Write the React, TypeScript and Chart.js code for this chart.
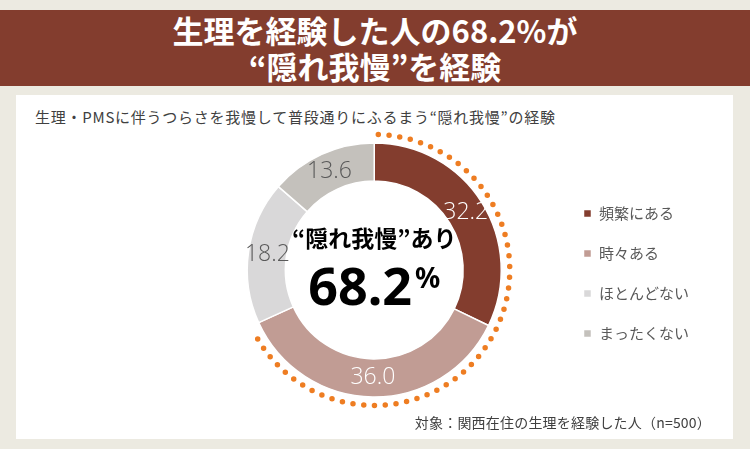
import React, { useEffect, useRef } from 'react';
import { Chart, registerables } from 'chart.js';

Chart.register(...registerables);

// answer categories and shares (%)
const categories = ['頻繁にある', '時々ある', 'ほとんどない', 'まったくない'];
const shares = [32.2, 36.0, 18.2, 13.6];
const sliceColors = ['#833D2E', '#C19C94', '#D9D8D9', '#C4C1BC'];
const valueColors = ['#FFFFFF', '#FFFFFF', '#595959', '#595959'];
// slices counted as "隠れ我慢あり"
const hiddenCount = 2;

const titleLines = ['生理を経験した人の68.2%が', '“隠れ我慢”を経験'];
const subtitle = '生理・PMSに伴うつらさを我慢して普段通りにふるまう“隠れ我慢”の経験';
const note = '対象：関西在住の生理を経験した人（n=500）';
const centerCaption = '“隠れ我慢”あり';

const JP = '"Noto Sans CJK JP", "Noto Sans", sans-serif';

const App: React.FC = () => {
  const canvasRef = useRef<HTMLCanvasElement>(null);
  const chartRef = useRef<Chart>();

  useEffect(() => {
    const canvas = canvasRef.current;
    if (!canvas) return;
    const ctx = canvas.getContext('2d');
    if (!ctx) return;

    // dotted orange arc around the "あり" slices
    const dottedArc = {
      id: 'dottedArc',
      afterDatasetsDraw(chart: any) {
        const arcs = chart.getDatasetMeta(0).data;
        const first = arcs[0].getProps(['x', 'y', 'startAngle', 'outerRadius'], true);
        const last = arcs[hiddenCount - 1].getProps(['endAngle'], true);
        const c = chart.ctx;
        c.save();
        c.beginPath();
        c.arc(first.x, first.y, first.outerRadius + 8.5, first.startAngle + 0.03, last.endAngle - 0.03);
        c.setLineDash([0, 10.8]);
        c.lineCap = 'round';
        c.lineWidth = 5.5;
        c.strokeStyle = '#EE7D22';
        c.stroke();
        c.restore();
      },
    };

    // value labels on the ring
    const valueLabels = {
      id: 'valueLabels',
      afterDatasetsDraw(chart: any) {
        const arcs = chart.getDatasetMeta(0).data;
        const c = chart.ctx;
        c.save();
        c.font = '300 23px "Open Sans", "DejaVu Sans", sans-serif';
        c.textAlign = 'center';
        c.textBaseline = 'middle';
        arcs.forEach((arc: any, i: number) => {
          const p = arc.tooltipPosition(true);
          c.fillStyle = valueColors[i];
          c.fillText(shares[i].toFixed(1), p.x, p.y);
        });
        c.restore();
      },
    };

    // caption in the hole
    const centerText = {
      id: 'centerText',
      afterDraw(chart: any) {
        const arc = chart.getDatasetMeta(0).data[0];
        const { x, y } = arc.getProps(['x', 'y'], true);
        const total = shares.slice(0, hiddenCount).reduce((a, b) => a + b, 0).toFixed(1);
        const c = chart.ctx;
        c.save();
        c.fillStyle = '#000000';
        c.textAlign = 'center';
        c.textBaseline = 'middle';
        c.font = `bold 23px ${JP}`;
        c.fillText(centerCaption, x, y - 32);

        c.textAlign = 'left';
        c.textBaseline = 'alphabetic';
        c.font = 'bold 52px "Noto Sans", sans-serif';
        const w1 = c.measureText(total).width;
        c.font = 'bold 28px "Noto Sans", sans-serif';
        const w2 = c.measureText('%').width;
        const left = x - (w1 + w2 + 3) / 2;
        c.font = 'bold 52px "Noto Sans", sans-serif';
        c.fillText(total, left, y + 35);
        c.font = 'bold 28px "Noto Sans", sans-serif';
        c.fillText('%', left + w1 + 3, y + 18);
        c.restore();
      },
    };

    if (chartRef.current) chartRef.current.destroy();
    chartRef.current = new Chart(ctx, {
      type: 'doughnut',
      data: {
        labels: categories,
        datasets: [
          {
            data: shares,
            backgroundColor: sliceColors,
            borderColor: '#FFFFFF',
            borderWidth: 1.5,
          },
        ],
      },
      options: {
        animation: false,
        responsive: true,
        maintainAspectRatio: false,
        radius: 127,
        cutout: '70%',
        layout: { padding: { left: 174, right: 34, top: 0, bottom: 10 } },
        plugins: {
          tooltip: { enabled: false },
          legend: {
            position: 'right',
            title: { display: true, text: '', font: { size: 1 }, padding: { top: 3, bottom: 3 } },
            labels: {
              boxWidth: 8,
              boxHeight: 8,
              padding: 25,
              color: '#595959',
              font: { size: 15, family: JP },
            },
          },
        },
      },
      plugins: [dottedArc, valueLabels, centerText],
    });

    return () => {
      if (chartRef.current) {
        chartRef.current.destroy();
        chartRef.current = undefined;
      }
    };
  }, []);

  return (
    <div
      style={{
        position: 'absolute',
        left: 0,
        top: 0,
        width: 750,
        height: 449,
        background: '#ECEAE1',
        fontFamily: JP,
        overflow: 'hidden',
      }}
    >
      <div
        style={{
          position: 'absolute',
          left: 0,
          top: 10,
          width: 750,
          height: 76,
          background: '#833D2E',
          color: '#FFFFFF',
          fontWeight: 'bold',
          fontSize: 31,
          lineHeight: '36px',
          textAlign: 'center',
          paddingTop: 2,
          boxSizing: 'border-box',
        }}
      >
        {titleLines.map((t) => (
          <div key={t}>{t}</div>
        ))}
      </div>
      <div
        style={{
          position: 'absolute',
          left: 16,
          top: 95,
          width: 717,
          height: 344,
          background: '#FFFFFF',
        }}
      >
        <div
          style={{
            position: 'absolute',
            left: 19,
            top: 11,
            fontSize: 15,
            letterSpacing: '0.75px',
            color: '#404040',
            whiteSpace: 'nowrap',
          }}
        >
          {subtitle}
        </div>
        <div style={{ position: 'absolute', left: 0, top: 35, width: 717, height: 290 }}>
          <canvas ref={canvasRef} />
        </div>
        <div
          style={{
            position: 'absolute',
            right: 22,
            top: 317,
            fontSize: 14,
            letterSpacing: '0.2px',
            color: '#404040',
            whiteSpace: 'nowrap',
          }}
        >
          {note}
        </div>
      </div>
    </div>
  );
};

export default App;
